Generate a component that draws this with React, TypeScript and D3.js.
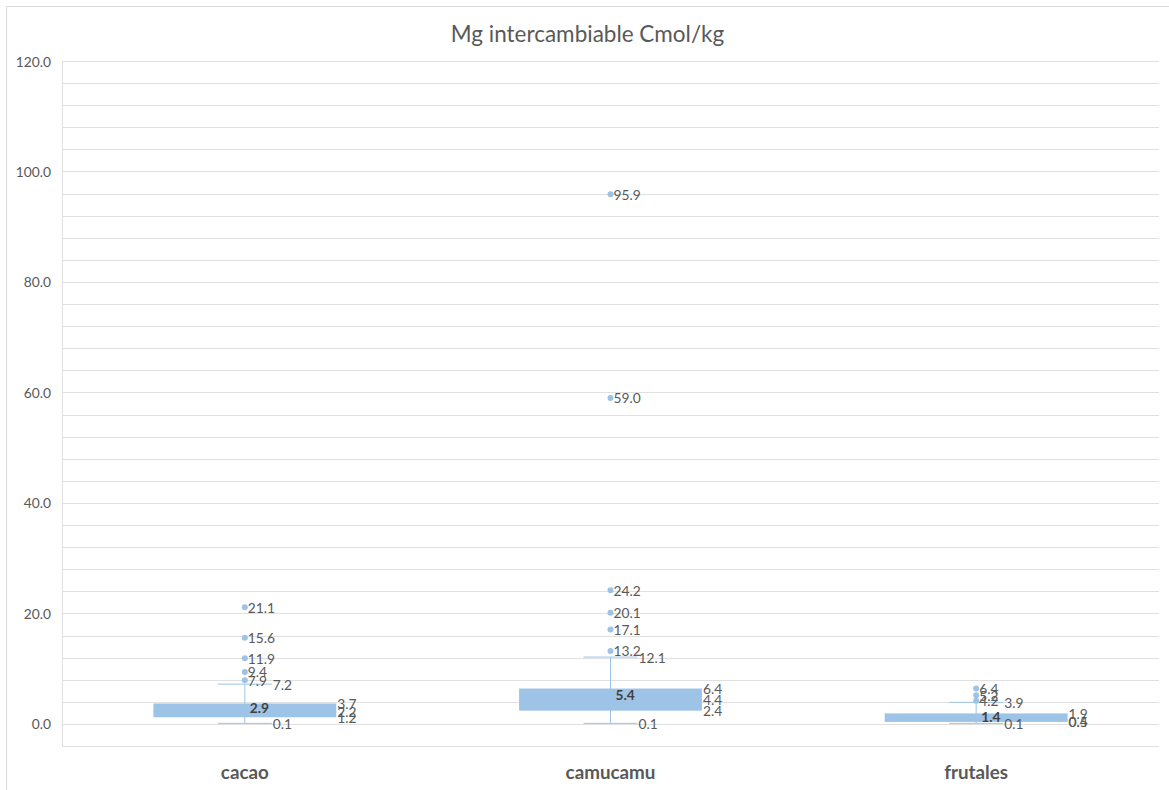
import React from "react";
import * as d3 from "d3";

const categories = ["cacao", "camucamu", "frutales"];
const q1 = [1.2, 2.4, 0.4];
const medians = [2.2, 4.4, 0.5];
const q3 = [3.7, 6.4, 1.9];
const means = [2.9, 5.4, 1.4];
const whiskerLow = [0.1, 0.1, 0.1];
const whiskerHigh = [7.2, 12.1, 3.9];
const outliers = [
  [7.9, 9.4, 11.9, 15.6, 21.1],
  [13.2, 17.1, 20.1, 24.2, 59.0, 95.9],
  [4.2, 5.2, 6.4],
];
const yTicks = [0, 20, 40, 60, 80, 100, 120];
const title = "Mg intercambiable Cmol/kg";

const W = 1169;
const H = 790;
const M = { left: 62, right: 1159, top: 61, bottom: 746 };
const FONT = "Lato, 'Open Sans', sans-serif";
const TXT = "#595959";
const BOX = "#9DC3E6";
const GRID = "#e0e0e0";
const LBL = 13.8;

export default function App() {
  const y = d3.scaleLinear().domain([-4, 120]).range([M.bottom, M.top]);
  const x = d3.scaleBand().domain(categories).range([M.left, M.right]).padding(0);
  const bw = x.bandwidth();
  const boxW = bw * 0.5;
  const capW = 54;
  const grid = d3.range(-4, 120.001, 4);
  const fmt = d3.format(".1f");

  return (
    <svg
      width={W}
      height={H}
      style={{ position: "absolute", left: 0, top: 0, background: "#fff" }}
      fontFamily={FONT}
    >
      <rect x={0} y={0} width={W} height={H} fill="#fff" />
      <line x1={6.5} y1={6.5} x2={W + 5} y2={6.5} stroke="#d9d9d9" />
      <line x1={6.5} y1={6.5} x2={6.5} y2={H + 5} stroke="#d9d9d9" />
      <text x={587.5} y={33} textAnchor="middle" dominantBaseline="central" fontSize={22.5} fill={TXT}>
        {title}
      </text>
      {grid.map((g) => (
        <line key={g} x1={M.left} x2={M.right} y1={Math.round(y(g)) + 0.5} y2={Math.round(y(g)) + 0.5} stroke={GRID} strokeWidth={1} />
      ))}
      <line x1={M.left + 0.5} x2={M.left + 0.5} y1={M.top} y2={M.bottom} stroke={GRID} />
      {yTicks.map((t) => (
        <text key={t} x={51} y={y(t)} textAnchor="end" dominantBaseline="central" fontSize={LBL} fill={TXT}>
          {fmt(t)}
        </text>
      ))}
      {categories.map((c, i) => {
        const cx = (x(c) as number) + bw / 2;
        return (
          <g key={c}>
            <line x1={cx} x2={cx} y1={y(whiskerLow[i])} y2={y(whiskerHigh[i])} stroke={BOX} strokeWidth={1} />
            <line x1={cx - capW / 2} x2={cx + capW / 2} y1={y(whiskerLow[i])} y2={y(whiskerLow[i])} stroke={BOX} strokeWidth={1} />
            <line x1={cx - capW / 2} x2={cx + capW / 2} y1={y(whiskerHigh[i])} y2={y(whiskerHigh[i])} stroke={BOX} strokeWidth={1} />
            <rect x={cx - boxW / 2} y={y(q3[i])} width={boxW} height={y(q1[i]) - y(q3[i])} fill={BOX} />
            <line x1={cx - boxW / 2} x2={cx + boxW / 2} y1={y(medians[i])} y2={y(medians[i])} stroke={BOX} />
            {outliers[i].map((o, k) => (
              <circle key={k} cx={cx} cy={y(o)} r={3} fill={BOX} />
            ))}
            {outliers[i].map((o, k) => (
              <text key={"t" + k} x={cx + 3} y={y(o)} dominantBaseline="central" fontSize={LBL} fill={TXT}>
                {fmt(o)}
              </text>
            ))}
            <text x={cx + capW / 2 + 1} y={y(whiskerHigh[i])} dominantBaseline="central" fontSize={LBL} fill={TXT}>
              {fmt(whiskerHigh[i])}
            </text>
            <text x={cx + capW / 2 + 1} y={y(whiskerLow[i])} dominantBaseline="central" fontSize={LBL} fill={TXT}>
              {fmt(whiskerLow[i])}
            </text>
            {[q3[i], medians[i], q1[i]].map((v, k) => (
              <text key={"q" + k} x={cx + boxW / 2 + 1} y={y(v)} dominantBaseline="central" fontSize={LBL} fill={TXT}>
                {fmt(v)}
              </text>
            ))}
            <text x={cx + 5} y={y(means[i])} dominantBaseline="central" fontSize={LBL} fontWeight="bold" fill="#404040">
              {fmt(means[i])}
            </text>
            <text x={cx} y={771} textAnchor="middle" dominantBaseline="central" fontSize={18.8} fontWeight="bold" fill={TXT}>
              {c}
            </text>
          </g>
        );
      })}
    </svg>
  );
}
